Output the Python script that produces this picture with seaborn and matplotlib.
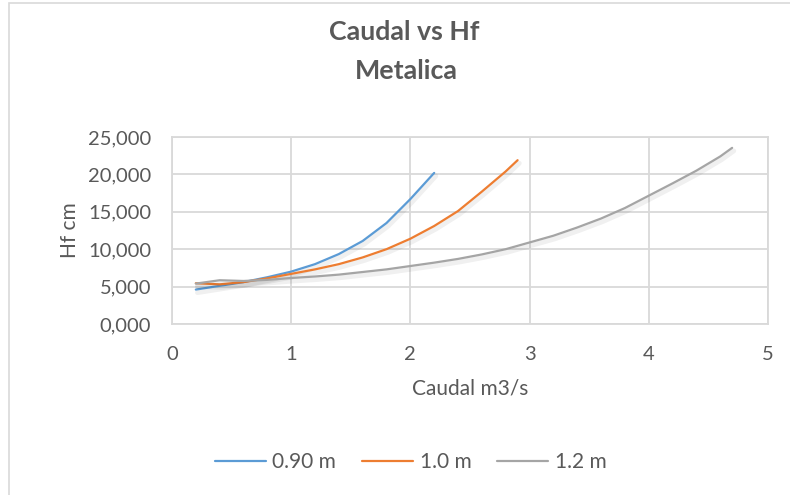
import matplotlib
matplotlib.use("Agg")
import matplotlib.pyplot as plt
import matplotlib.patheffects as pe
import matplotlib.ticker as mticker
from matplotlib.patches import Rectangle
from matplotlib.lines import Line2D
import seaborn as sns
import pandas as pd

# ---- data ----
x_090 = [0.2, 0.4, 0.6, 0.8, 1.0, 1.2, 1.4, 1.6, 1.8, 2.0, 2.2]
y_090 = [4600, 5100, 5600, 6250, 7000, 8000, 9350, 11100, 13500, 16700, 20200]

x_100 = [0.2, 0.4, 0.6, 0.8, 1.0, 1.2, 1.4, 1.6, 1.8, 2.0, 2.2, 2.4, 2.6, 2.8, 2.9]
y_100 = [5450, 5300, 5600, 6100, 6700, 7300, 8000, 8900, 10000, 11400, 13100, 15100, 17700, 20400, 21900]

x_120 = [0.2, 0.4, 0.6, 0.8, 1.0, 1.2, 1.4, 1.6, 1.8, 2.0, 2.2, 2.4, 2.6, 2.8,
         3.0, 3.2, 3.4, 3.6, 3.8, 4.0, 4.2, 4.4, 4.6, 4.7]
y_120 = [5400, 5850, 5750, 5900, 6150, 6350, 6600, 6950, 7300, 7750, 8200, 8700, 9300, 10000,
         10900, 11800, 12900, 14100, 15500, 17150, 18800, 20500, 22400, 23550]

series_names = ["0.90 m", "1.0 m", "1.2 m"]
colors = ["#5B9BD5", "#ED7D31", "#A5A5A5"]

title_line1 = "Caudal vs Hf"
title_line2 = "Metalica"
xlabel_text = "Caudal m3/s"
ylabel_text = "Hf cm"
x_ticks = [0, 1, 2, 3, 4, 5]
y_ticks = [0, 5000, 10000, 15000, 20000, 25000]

df = pd.concat([
    pd.DataFrame({"x": x_090, "y": y_090, "s": series_names[0]}),
    pd.DataFrame({"x": x_100, "y": y_100, "s": series_names[1]}),
    pd.DataFrame({"x": x_120, "y": y_120, "s": series_names[2]}),
])

sns.set_theme(style="white")
plt.rcParams["font.family"] = ["Lato", "DejaVu Sans"]
txt = "#595959"
grid_c = "#D9D9D9"

fig = plt.figure(figsize=(7.9, 4.95), dpi=100)
ax = fig.add_axes([0.2177, 0.3455, 0.7543, 0.3777])

sns.lineplot(data=df, x="x", y="y", hue="s", palette=colors, ax=ax,
             linewidth=1.6, sort=False, estimator=None, legend=False)
for ln in ax.get_lines():
    ln.set_path_effects([pe.SimpleLineShadow(offset=(1.2, -2.2), shadow_color="black", alpha=0.06, linewidth=3.5),
                         pe.Normal()])

ax.set_xlim(0, 5)
ax.set_ylim(0, 25000)
ax.set_xticks(x_ticks)
ax.set_yticks(y_ticks)
ax.yaxis.set_major_formatter(mticker.FuncFormatter(lambda v, p: f"{v/1000:.3f}".replace(".", ",")))
ax.xaxis.set_major_formatter(mticker.FuncFormatter(lambda v, p: f"{int(v)}"))
ax.grid(True, color=grid_c, linewidth=1.3)
for sp in ax.spines.values():
    sp.set_color(grid_c)
    sp.set_linewidth(1.3)
ax.tick_params(axis="x", length=0, labelsize=14.5, colors=txt, pad=16)
ax.tick_params(axis="y", length=0, labelsize=14.5, colors=txt, pad=15)
ax.set_xlabel(xlabel_text, fontsize=15, color=txt, labelpad=11)
ax.set_ylabel(ylabel_text, fontsize=15, color=txt, labelpad=6)

fig.text(0.512, 1 - 32/495, title_line1, ha="center", va="center", fontsize=19.3, fontweight="bold", color=txt)
fig.text(0.515, 1 - 71/495, title_line2, ha="center", va="center", fontsize=19.3, fontweight="bold", color=txt)

handles = [Line2D([0], [0], color=c, linewidth=1.6) for c in colors]
fig.legend(handles, series_names, loc="center", bbox_to_anchor=(0.52, 1 - 462/495), ncol=3,
           frameon=False, fontsize=15, labelcolor=txt, handlelength=2.45, columnspacing=1.25,
           handletextpad=0.3, borderaxespad=0)

fig.patches.append(Rectangle((0.011, -0.1), 1.2, 1.093, transform=fig.transFigure,
                             fill=False, edgecolor=grid_c, linewidth=1.2))

fig.savefig("out.png", dpi=100)
